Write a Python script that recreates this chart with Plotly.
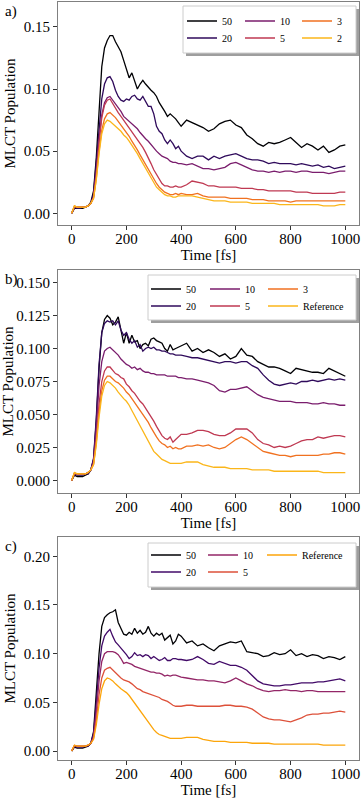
import plotly.graph_objects as go

# ---------------- data ----------------
time_fs = [0, 10, 20, 30, 40, 50, 60, 70, 80, 90,
           100, 110, 120, 130, 140, 150, 160, 170, 180, 190,
           200, 210, 220, 230, 240, 250, 260, 270, 280, 290,
           300, 310, 320, 330, 340, 350, 360, 370, 380, 390,
           400, 420, 440, 460, 480, 500, 520, 540, 560, 580,
           600, 620, 640, 660, 680, 700, 720, 740, 760, 780,
           800, 820, 840, 860, 880, 900, 920, 940, 960, 980, 1000]

# panel a
a_labels = ["50", "20", "10", "5", "3", "2"]
a_50 = [0.000, 0.004, 0.004, 0.004, 0.004, 0.005, 0.006, 0.009, 0.018, 0.045,
        0.085, 0.118, 0.133, 0.139, 0.143, 0.143, 0.138, 0.134, 0.130, 0.123,
        0.116, 0.109, 0.113, 0.106, 0.100, 0.104, 0.107, 0.104, 0.101, 0.099,
        0.097, 0.094, 0.089, 0.086, 0.082, 0.078, 0.080, 0.078, 0.076, 0.073,
        0.070, 0.075, 0.073, 0.071, 0.069, 0.066, 0.068, 0.072, 0.074, 0.075,
        0.071, 0.069, 0.063, 0.060, 0.056, 0.054, 0.057, 0.056, 0.057, 0.059,
        0.061, 0.057, 0.053, 0.056, 0.054, 0.051, 0.054, 0.049, 0.051, 0.054, 0.055]
a_20 = [0.000, 0.005, 0.004, 0.004, 0.005, 0.005, 0.006, 0.008, 0.016, 0.040,
        0.070, 0.092, 0.104, 0.109, 0.110, 0.106, 0.099, 0.094, 0.091, 0.090,
        0.092, 0.091, 0.094, 0.095, 0.092, 0.091, 0.094, 0.090, 0.086, 0.086,
        0.080, 0.070, 0.066, 0.064, 0.059, 0.056, 0.059, 0.056, 0.052, 0.054,
        0.050, 0.046, 0.044, 0.046, 0.046, 0.043, 0.046, 0.044, 0.046, 0.047,
        0.048, 0.046, 0.044, 0.043, 0.043, 0.042, 0.040, 0.041, 0.040, 0.040,
        0.040, 0.039, 0.040, 0.039, 0.038, 0.039, 0.037, 0.038, 0.036, 0.037, 0.038]
a_10 = [0.000, 0.005, 0.005, 0.005, 0.005, 0.005, 0.006, 0.008, 0.014, 0.034,
        0.060, 0.079, 0.089, 0.093, 0.094, 0.091, 0.088, 0.085, 0.082, 0.078,
        0.076, 0.074, 0.072, 0.070, 0.068, 0.065, 0.062, 0.060, 0.058, 0.055,
        0.053, 0.050, 0.048, 0.046, 0.045, 0.044, 0.042, 0.041, 0.041, 0.040,
        0.040, 0.039, 0.040, 0.038, 0.036, 0.036, 0.035, 0.036, 0.037, 0.040,
        0.041, 0.039, 0.037, 0.035, 0.034, 0.034, 0.033, 0.034, 0.033, 0.034,
        0.034, 0.033, 0.034, 0.034, 0.033, 0.033, 0.033, 0.032, 0.033, 0.034, 0.034]
a_5 = [0.000, 0.005, 0.005, 0.005, 0.005, 0.005, 0.006, 0.008, 0.013, 0.032,
       0.057, 0.077, 0.087, 0.091, 0.092, 0.088, 0.085, 0.081, 0.078, 0.075,
       0.072, 0.069, 0.066, 0.063, 0.060, 0.056, 0.053, 0.049, 0.045, 0.040,
       0.035, 0.031, 0.027, 0.024, 0.022, 0.022, 0.021, 0.021, 0.022, 0.021,
       0.021, 0.023, 0.026, 0.025, 0.024, 0.022, 0.022, 0.021, 0.021, 0.021,
       0.021, 0.020, 0.020, 0.020, 0.019, 0.019, 0.018, 0.018, 0.018, 0.018,
       0.018, 0.017, 0.017, 0.017, 0.016, 0.016, 0.016, 0.016, 0.016, 0.017, 0.017]
a_3 = [0.000, 0.006, 0.005, 0.005, 0.005, 0.005, 0.006, 0.008, 0.012, 0.028,
       0.050, 0.067, 0.076, 0.080, 0.081, 0.079, 0.077, 0.074, 0.071, 0.068,
       0.065, 0.062, 0.058, 0.055, 0.051, 0.047, 0.043, 0.039, 0.035, 0.031,
       0.027, 0.024, 0.021, 0.019, 0.017, 0.016, 0.015, 0.015, 0.016, 0.015,
       0.016, 0.015, 0.015, 0.016, 0.014, 0.013, 0.013, 0.013, 0.013, 0.012,
       0.012, 0.012, 0.012, 0.011, 0.011, 0.011, 0.010, 0.010, 0.010, 0.010,
       0.009, 0.010, 0.010, 0.010, 0.010, 0.010, 0.010, 0.010, 0.010, 0.010, 0.010]
a_2 = [0.000, 0.006, 0.005, 0.005, 0.005, 0.005, 0.006, 0.008, 0.012, 0.027,
       0.048, 0.064, 0.072, 0.075, 0.074, 0.072, 0.070, 0.068, 0.066, 0.063,
       0.061, 0.058, 0.055, 0.052, 0.048, 0.044, 0.040, 0.036, 0.032, 0.028,
       0.024, 0.021, 0.019, 0.017, 0.015, 0.014, 0.014, 0.013, 0.013, 0.014,
       0.014, 0.014, 0.014, 0.013, 0.012, 0.011, 0.010, 0.010, 0.010, 0.009,
       0.009, 0.009, 0.009, 0.008, 0.008, 0.008, 0.008, 0.008, 0.007, 0.007,
       0.007, 0.007, 0.007, 0.007, 0.007, 0.007, 0.006, 0.006, 0.006, 0.007, 0.007]

# panel b
b_labels = ["50", "20", "10", "5", "3", "Reference"]
b_50 = [0.000, 0.004, 0.003, 0.003, 0.003, 0.004, 0.005, 0.008, 0.016, 0.045,
        0.085, 0.112, 0.122, 0.125, 0.123, 0.118, 0.120, 0.124, 0.113, 0.104,
        0.112, 0.104, 0.110, 0.105, 0.106, 0.100, 0.103, 0.104, 0.102, 0.107,
        0.108, 0.106, 0.105, 0.104, 0.100, 0.098, 0.103, 0.099, 0.100, 0.101,
        0.102, 0.104, 0.098, 0.100, 0.097, 0.099, 0.097, 0.094, 0.096, 0.092,
        0.094, 0.100, 0.095, 0.094, 0.090, 0.088, 0.086, 0.086, 0.085, 0.083,
        0.081, 0.085, 0.084, 0.083, 0.082, 0.082, 0.081, 0.085, 0.083, 0.081, 0.079]
b_20 = [0.000, 0.005, 0.004, 0.004, 0.004, 0.005, 0.005, 0.008, 0.017, 0.048,
        0.088, 0.112, 0.119, 0.121, 0.120, 0.121, 0.118, 0.121, 0.114, 0.110,
        0.112, 0.107, 0.104, 0.106, 0.101, 0.103, 0.098, 0.100, 0.101, 0.100,
        0.101, 0.099, 0.099, 0.098, 0.098, 0.097, 0.096, 0.096, 0.095, 0.095,
        0.095, 0.094, 0.093, 0.093, 0.092, 0.091, 0.090, 0.089, 0.090, 0.090,
        0.089, 0.090, 0.090, 0.087, 0.085, 0.080, 0.076, 0.073, 0.072, 0.073,
        0.074, 0.073, 0.075, 0.075, 0.076, 0.075, 0.076, 0.077, 0.076, 0.077, 0.076]
b_10 = [0.000, 0.005, 0.005, 0.005, 0.005, 0.005, 0.006, 0.008, 0.015, 0.040,
        0.072, 0.090, 0.098, 0.100, 0.101, 0.099, 0.097, 0.095, 0.092, 0.090,
        0.088, 0.087, 0.085, 0.086, 0.084, 0.085, 0.083, 0.082, 0.082, 0.081,
        0.081, 0.080, 0.080, 0.080, 0.080, 0.079, 0.079, 0.079, 0.079, 0.078,
        0.078, 0.077, 0.077, 0.076, 0.075, 0.074, 0.072, 0.068, 0.067, 0.069,
        0.069, 0.070, 0.071, 0.068, 0.065, 0.063, 0.062, 0.061, 0.060, 0.060,
        0.060, 0.059, 0.059, 0.059, 0.058, 0.058, 0.059, 0.058, 0.058, 0.057, 0.057]
b_5 = [0.000, 0.005, 0.005, 0.005, 0.005, 0.005, 0.006, 0.008, 0.013, 0.032,
       0.058, 0.075, 0.083, 0.086, 0.086, 0.083, 0.081, 0.080, 0.078, 0.077,
       0.073, 0.071, 0.068, 0.066, 0.063, 0.060, 0.058, 0.055, 0.052, 0.049,
       0.045, 0.041, 0.037, 0.034, 0.032, 0.031, 0.033, 0.029, 0.031, 0.033,
       0.035, 0.035, 0.036, 0.038, 0.038, 0.037, 0.035, 0.034, 0.034, 0.036,
       0.039, 0.039, 0.039, 0.036, 0.031, 0.028, 0.027, 0.025, 0.026, 0.025,
       0.026, 0.028, 0.030, 0.031, 0.031, 0.033, 0.032, 0.033, 0.034, 0.034, 0.033]
b_3 = [0.000, 0.006, 0.005, 0.005, 0.005, 0.005, 0.006, 0.008, 0.012, 0.029,
       0.052, 0.068, 0.076, 0.079, 0.079, 0.077, 0.075, 0.074, 0.072, 0.070,
       0.067, 0.065, 0.062, 0.059, 0.056, 0.053, 0.050, 0.047, 0.044, 0.040,
       0.036, 0.033, 0.030, 0.028, 0.027, 0.025, 0.026, 0.024, 0.025, 0.024,
       0.024, 0.026, 0.026, 0.027, 0.026, 0.027, 0.025, 0.024, 0.025, 0.028,
       0.031, 0.033, 0.031, 0.028, 0.025, 0.022, 0.021, 0.020, 0.019, 0.019,
       0.018, 0.019, 0.019, 0.019, 0.019, 0.019, 0.020, 0.020, 0.021, 0.021, 0.020]
b_ref = [0.000, 0.006, 0.005, 0.005, 0.005, 0.005, 0.006, 0.008, 0.012, 0.027,
         0.048, 0.064, 0.072, 0.075, 0.074, 0.072, 0.070, 0.067, 0.064, 0.062,
         0.060, 0.057, 0.053, 0.049, 0.045, 0.041, 0.037, 0.033, 0.029, 0.025,
         0.022, 0.020, 0.018, 0.016, 0.015, 0.014, 0.013, 0.013, 0.013, 0.013,
         0.013, 0.014, 0.014, 0.014, 0.012, 0.011, 0.010, 0.010, 0.010, 0.009,
         0.009, 0.009, 0.009, 0.008, 0.008, 0.008, 0.008, 0.007, 0.007, 0.007,
         0.007, 0.007, 0.007, 0.007, 0.007, 0.007, 0.006, 0.006, 0.006, 0.006, 0.006]

# panel c
c_labels = ["50", "20", "10", "5", "Reference"]
c_50 = [0.000, 0.004, 0.003, 0.003, 0.003, 0.004, 0.005, 0.008, 0.020, 0.060,
        0.100, 0.128, 0.137, 0.140, 0.142, 0.143, 0.145, 0.132, 0.125, 0.120,
        0.119, 0.122, 0.120, 0.126, 0.121, 0.124, 0.120, 0.122, 0.128, 0.121,
        0.118, 0.121, 0.119, 0.121, 0.114, 0.117, 0.119, 0.110, 0.113, 0.120,
        0.118, 0.111, 0.113, 0.108, 0.110, 0.106, 0.103, 0.108, 0.110, 0.112,
        0.111, 0.113, 0.102, 0.101, 0.100, 0.097, 0.098, 0.101, 0.099, 0.100,
        0.104, 0.098, 0.100, 0.097, 0.099, 0.098, 0.095, 0.097, 0.096, 0.094, 0.097]
c_20 = [0.000, 0.005, 0.004, 0.004, 0.004, 0.005, 0.005, 0.008, 0.018, 0.050,
        0.085, 0.108, 0.118, 0.122, 0.125, 0.118, 0.112, 0.109, 0.106, 0.102,
        0.099, 0.095, 0.097, 0.101, 0.098, 0.099, 0.097, 0.099, 0.098, 0.095,
        0.097, 0.095, 0.093, 0.094, 0.096, 0.093, 0.093, 0.095, 0.095, 0.094,
        0.094, 0.093, 0.094, 0.097, 0.094, 0.090, 0.089, 0.092, 0.090, 0.088,
        0.088, 0.086, 0.083, 0.077, 0.072, 0.069, 0.068, 0.067, 0.067, 0.068,
        0.068, 0.069, 0.070, 0.070, 0.070, 0.071, 0.071, 0.072, 0.073, 0.074, 0.072]
c_10 = [0.000, 0.005, 0.005, 0.005, 0.005, 0.005, 0.006, 0.008, 0.015, 0.040,
        0.072, 0.092, 0.100, 0.102, 0.102, 0.102, 0.101, 0.099, 0.095, 0.090,
        0.091, 0.090, 0.089, 0.087, 0.086, 0.085, 0.084, 0.083, 0.082, 0.081,
        0.081, 0.080, 0.080, 0.079, 0.077, 0.078, 0.077, 0.078, 0.078, 0.077,
        0.076, 0.075, 0.074, 0.073, 0.073, 0.072, 0.072, 0.071, 0.070, 0.072,
        0.075, 0.072, 0.069, 0.067, 0.064, 0.062, 0.061, 0.062, 0.062, 0.063,
        0.062, 0.062, 0.061, 0.062, 0.062, 0.061, 0.061, 0.061, 0.061, 0.061, 0.061]
c_5 = [0.000, 0.006, 0.005, 0.005, 0.005, 0.005, 0.006, 0.008, 0.013, 0.032,
       0.058, 0.075, 0.083, 0.085, 0.086, 0.083, 0.080, 0.077, 0.075, 0.073,
       0.072, 0.071, 0.069, 0.066, 0.064, 0.063, 0.061, 0.060, 0.059, 0.058,
       0.057, 0.056, 0.055, 0.053, 0.052, 0.051, 0.049, 0.047, 0.046, 0.046,
       0.046, 0.047, 0.047, 0.046, 0.046, 0.046, 0.046, 0.046, 0.047, 0.047,
       0.046, 0.046, 0.045, 0.043, 0.039, 0.035, 0.033, 0.032, 0.032, 0.031,
       0.030, 0.032, 0.034, 0.037, 0.038, 0.038, 0.039, 0.039, 0.040, 0.041, 0.040]
c_ref = [0.000, 0.006, 0.005, 0.005, 0.005, 0.005, 0.006, 0.008, 0.012, 0.027,
         0.048, 0.064, 0.072, 0.075, 0.074, 0.072, 0.069, 0.066, 0.064, 0.062,
         0.060, 0.057, 0.053, 0.049, 0.045, 0.041, 0.037, 0.033, 0.029, 0.025,
         0.022, 0.019, 0.017, 0.016, 0.015, 0.014, 0.013, 0.013, 0.013, 0.013,
         0.013, 0.014, 0.014, 0.014, 0.012, 0.011, 0.010, 0.010, 0.010, 0.009,
         0.009, 0.009, 0.009, 0.008, 0.008, 0.008, 0.008, 0.007, 0.007, 0.007,
         0.007, 0.007, 0.007, 0.007, 0.007, 0.007, 0.006, 0.006, 0.006, 0.006, 0.006]

x_ticks = [0, 200, 400, 600, 800, 1000]
a_yticks = [0.00, 0.05, 0.10, 0.15]
b_yticks = [0.000, 0.025, 0.050, 0.075, 0.100, 0.125, 0.150]
c_yticks = [0.00, 0.05, 0.10, 0.15, 0.20]

# ---------------- styling ----------------
colors6 = ["#000004", "#2f0a5b", "#7a1d6d", "#bf3952", "#f07120", "#fbb61a"]
colors5 = ["#000004", "#420a68", "#932667", "#dd513a", "#fca50a"]

W, H = 362, 799
ML, MR, MT, MB = 58, 3, 2, 39
PW = W - ML - MR
PH = H - MT - MB


def px_x(X):
    return (X - ML) / PW


def px_y(Y):
    return (H - MB - Y) / PH


FONT = "Liberation Serif"

panels = [
    dict(key="a", labels=a_labels, series=[a_50, a_20, a_10, a_5, a_3, a_2], colors=colors6,
         top=2, bottom=225, yr=[-0.0094, 0.170], yticks=a_yticks, fmt=".2f",
         col_x=(222, 280, 337), rows=(21, 38),
         box=(183, 6, 356, 53), tag_y=12),
    dict(key="b", labels=b_labels, series=[b_50, b_20, b_10, b_5, b_3, b_ref], colors=colors6,
         top=270, bottom=493, yr=[-0.0095, 0.1595], yticks=b_yticks, fmt=".3f",
         col_x=(186, 245, 303), rows=(289, 306),
         box=(148, 275, 356, 320), tag_y=279),
    dict(key="c", labels=c_labels, series=[c_50, c_20, c_10, c_5, c_ref], colors=colors5,
         top=537, bottom=760, yr=[-0.0092, 0.2198], yticks=c_yticks, fmt=".2f",
         col_x=(186, 243, 302), rows=(555, 572),
         box=(148, 543, 356, 587), tag_y=546),
]

fig = go.Figure()
layout = dict(
    width=W, height=H, showlegend=True,
    margin=dict(l=ML, r=MR, t=MT, b=MB, autoexpand=False),
    paper_bgcolor="white", plot_bgcolor="white",
    font=dict(family=FONT, size=15, color="black"),
    shapes=[], annotations=[],
)

legend_count = 0
for i, p in enumerate(panels):
    n = "" if i == 0 else str(i + 1)
    xa, ya = "x" + n, "y" + n
    for j, (lab, vals, col) in enumerate(zip(p["labels"], p["series"], p["colors"])):
        legend_count += 1
        lid = "legend" if legend_count == 1 else "legend%d" % legend_count
        fig.add_trace(go.Scatter(
            x=time_fs, y=vals, mode="lines", name=lab,
            line=dict(color=col, width=1.3),
            xaxis=xa, yaxis=ya, legend=lid, showlegend=True,
        ))
        layout[lid] = dict(
            orientation="v", x=px_x(p["col_x"][j // 2] - 40), xanchor="left",
            y=px_y(p["rows"][j % 2]), yanchor="middle",
            bgcolor="rgba(0,0,0,0)", borderwidth=0, visible=True,
            font=dict(family=FONT, size=10, color="black"),
            itemwidth=30,
        )
    axis_common = dict(showline=True, linecolor="#808080", linewidth=1, mirror=True,
                       ticks="outside", ticklen=4, tickcolor="#333333", tickwidth=1,
                       showgrid=False, zeroline=False,
                       tickfont=dict(family=FONT, size=15, color="black"))
    layout["xaxis" + n] = dict(axis_common, domain=[0, 1], anchor=ya, range=[-50, 1050],
                              tickvals=x_ticks, ticklabelstandoff=-4,
                              title=dict(text="Time [fs]", standoff=3,
                                         font=dict(family=FONT, size=15)))
    layout["yaxis" + n] = dict(axis_common, domain=[px_y(p["bottom"]), px_y(p["top"])],
                              anchor=xa, range=p["yr"], tickvals=p["yticks"],
                              tickformat=p["fmt"],
                              title=dict(text="MLCT Population", standoff=4,
                                         font=dict(family=FONT, size=15)))
    bx0, by0, bx1, by1 = p["box"]
    layout["shapes"].append(dict(type="rect", xref="paper", yref="paper", layer="above",
                                 x0=px_x(bx0 + 3), x1=px_x(bx1 + 3),
                                 y0=px_y(by1 + 3), y1=px_y(by0 + 3),
                                 fillcolor="rgba(0,0,0,0.38)", line=dict(width=0)))
    layout["shapes"].append(dict(type="rect", xref="paper", yref="paper", layer="above",
                                 x0=px_x(bx0), x1=px_x(bx1),
                                 y0=px_y(by1), y1=px_y(by0),
                                 fillcolor="white", line=dict(color="#cccccc", width=1)))
    layout["annotations"].append(dict(text=p["key"] + ")", xref="paper", yref="paper",
                                      x=px_x(3), y=px_y(p["tag_y"]), xanchor="left",
                                      yanchor="middle", showarrow=False,
                                      font=dict(family=FONT, size=15, color="black")))

fig.update_layout(**layout)
fig.write_html("out.html", config={"displayModeBar": False},
               post_script="document.body.style.margin='0';document.body.style.padding='0';"
                           "document.documentElement.style.overflow='hidden';")
